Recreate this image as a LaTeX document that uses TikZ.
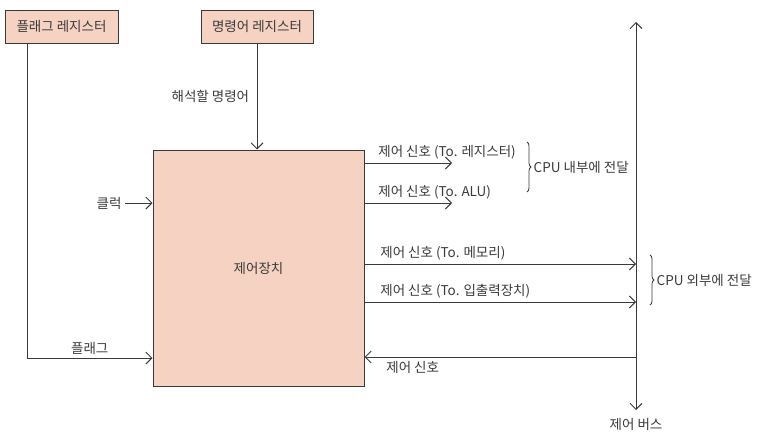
\documentclass[tikz,border=0pt]{standalone}
\usepackage{fontspec}
\setmainfont{Noto Sans CJK KR}
\usetikzlibrary{arrows.meta,decorations.pathreplacing}
\definecolor{unitfill}{HTML}{F5D2C2}
\definecolor{ink}{HTML}{3A3A3A}

\begin{document}
\begin{tikzpicture}[x=1pt,y=-1pt]
\tikzstyle{every node}+=[font=\fontsize{13.5}{15}\selectfont, text=ink]
\tikzstyle{unit}=[draw=ink, fill=unitfill, line width=1pt]
\tikzstyle{sig}=[draw=ink, line width=1pt, -{Straight Barb[length=6pt,width=12pt]}]
\tikzstyle{grp}=[draw=ink, line width=0.8pt, decorate, decoration={brace,amplitude=4pt}]
\useasboundingbox (0,0) rectangle (761,447);
\node [unit, minimum width=113pt, minimum height=33pt] (flagreg) at (61.5,26.5) {플래그 레지스터};
\node [unit, minimum width=112pt, minimum height=33pt] (instreg) at (257,26.5) {명령어 레지스터};
\node [unit, minimum width=211pt, minimum height=236pt] (cu) at (258.5,268) {제어장치};
\coordinate (bustop) at (636,22);
\coordinate (busbot) at (636,410);
\draw [sig, {Straight Barb[length=6pt,width=12pt]}-{Straight Barb[length=6pt,width=12pt]}] (bustop) -- (busbot);
\node (bus) [below, yshift=-5pt] at (busbot) {제어 버스};
\coordinate (flagdown) at (27,358);
\draw [sig] (flagreg.south -| flagdown) -- (flagdown) -- node [above] {플래그} (flagdown -| cu.west);
\draw [sig] (instreg.south) -- node [left, xshift=-4pt] {해석할 명령어} (instreg.south |- cu.north);
\coordinate (clk) at (125,203);
\node (clock) [left] at (clk) {클럭};
\draw [sig] (clk) -- (clk -| cu.west);
\coordinate (toreg) at (452,163);
\coordinate (toalu) at (452,203);
\coordinate (tomem) at (bustop |- 0,264);
\coordinate (toio) at (bustop |- 0,302);
\coordinate (fromb) at (bustop |- 0,357);
\draw [sig] (toreg -| cu.east) -- (toreg) node [pos=0, above right, xshift=10pt] {제어 신호 (To. 레지스터)};
\draw [sig] (toalu -| cu.east) -- (toalu) node [pos=0, above right, xshift=10pt] {제어 신호 (To. ALU)};
\draw [sig] (tomem -| cu.east) -- (tomem) node [pos=0, above right, xshift=12pt] {제어 신호 (To. 메모리)};
\draw [sig] (toio -| cu.east) -- (toio) node [pos=0, above right, xshift=12pt] {제어 신호 (To. 입출력장치)};
\draw [sig] (fromb) -- (fromb -| cu.east) node [pos=1, below right, xshift=18pt] {제어 신호};
\draw [grp] (527,142) -- node (inlabel) [right, xshift=3pt] {CPU 내부에 전달} (527,192);
\draw [grp] (650,255) -- node (outlabel) [right, xshift=3pt] {CPU 외부에 전달} (650,305);
\end{tikzpicture}
\end{document}
